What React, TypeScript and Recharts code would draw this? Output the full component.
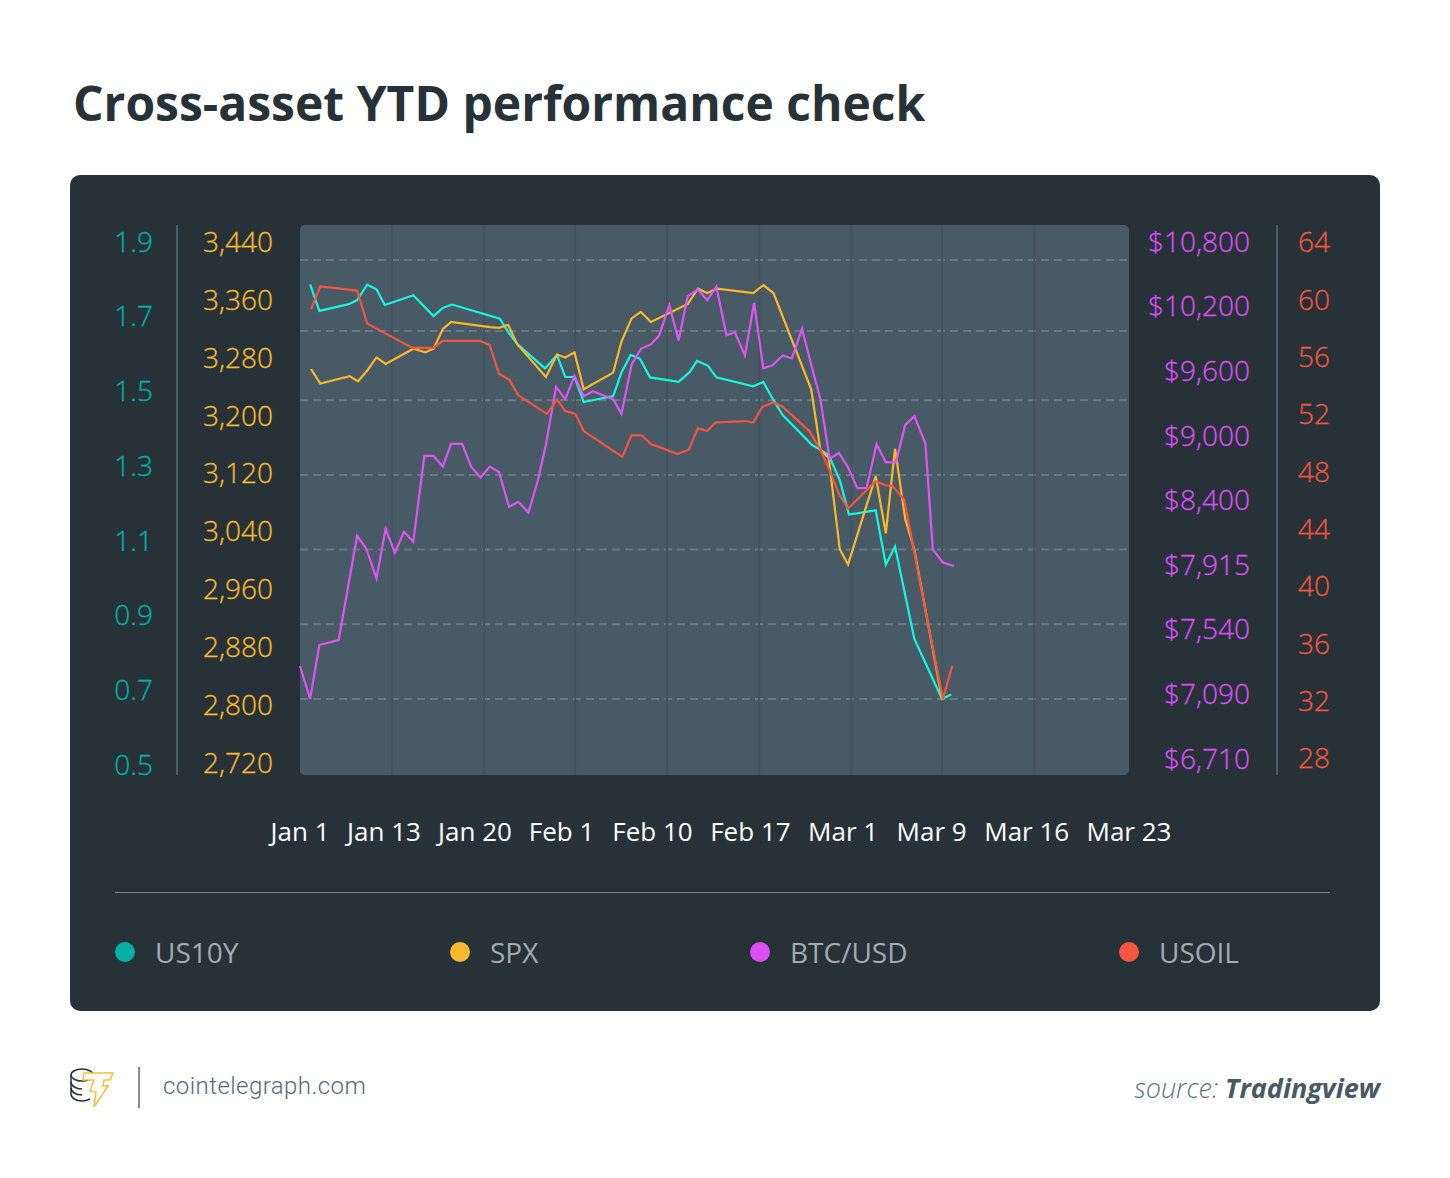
import { LineChart, Line, XAxis, YAxis, CartesianGrid } from 'recharts';

// x positions are in session steps from the left edge of the plot
const us10yDays = [1.1, 2.1, 5.3, 6.2, 7.3, 8.3, 9.2, 12.3, 14.5, 15.5, 16.5, 21.7, 22.7, 23.6, 26.6, 27.9, 28.8, 29.8, 30.8, 34, 34.9, 35.9, 36.9, 38, 41.1, 42.3, 43.1, 44.3, 45.2, 49.2, 50.3, 51.4, 52.4, 55.6, 56.5, 57.4, 58.6, 59.6, 62.5, 63.6, 64.6, 66.7, 69.7, 70.7];
const us10yValues = [1.81, 1.739, 1.757, 1.768, 1.809, 1.797, 1.755, 1.781, 1.725, 1.747, 1.756, 1.718, 1.679, 1.65, 1.585, 1.621, 1.562, 1.562, 1.495, 1.511, 1.574, 1.621, 1.611, 1.561, 1.549, 1.575, 1.605, 1.592, 1.561, 1.537, 1.549, 1.5, 1.46, 1.38, 1.367, 1.353, 1.286, 1.194, 1.205, 1.06, 1.108, 0.861, 0.7, 0.712];

const spxDays = [1.2, 2.2, 5.4, 6.3, 7.3, 8.3, 9.3, 12.3, 13.6, 14.5, 15.5, 16.4, 20.6, 21.6, 22.6, 23.6, 26.7, 27.9, 28.8, 29.8, 30.8, 34, 34.9, 36, 37, 38.1, 42.1, 43.2, 44.2, 45.3, 49.2, 50.3, 51.4, 55.5, 56.5, 57.4, 58.6, 59.5, 62.5, 63.6, 64.6, 65.7, 66.7, 69.7];
const spxValues = [3256, 3236, 3246, 3239, 3254, 3272, 3263, 3284, 3279, 3284, 3311, 3321, 3314, 3313, 3317, 3290, 3245, 3276, 3272, 3279, 3228, 3251, 3294, 3326, 3335, 3321, 3346, 3367, 3361, 3367, 3361, 3372, 3361, 3228, 3144, 3133, 3007, 2986, 3108, 3029, 3146, 3049, 3006, 2800];

const btcDays = [0, 1.1, 2.1, 4.2, 6.2, 7.2, 8.3, 9.3, 10.3, 11.3, 12.3, 13.5, 14.5, 15.5, 16.4, 17.6, 18.6, 19.6, 20.6, 21.6, 22.7, 23.7, 24.8, 25.8, 26.7, 27.8, 28.8, 29.8, 30.8, 31.8, 34, 34.9, 36, 37, 38.1, 39, 40.1, 41.1, 42.1, 43.2, 44.2, 45.2, 46.3, 47.2, 48.3, 49.3, 50.3, 51.3, 52.4, 53.4, 54.5, 55.5, 56.5, 57.5, 58.5, 59.5, 60.5, 61.5, 62.6, 63.6, 64.7, 65.7, 66.7, 67.9, 68.7, 69.8, 71];
const btcValues = [7320, 7090, 7466, 7501, 8170, 8073, 7865, 8223, 8043, 8200, 8125, 8858, 8858, 8759, 8969, 8969, 8756, 8657, 8759, 8709, 8388, 8431, 8345, 8623, 8964, 9499, 9385, 9601, 9412, 9459, 9385, 9248, 9707, 9852, 9893, 9979, 10258, 9930, 10341, 10403, 10304, 10428, 9979, 10007, 9790, 10279, 9672, 9700, 9790, 9763, 10037, 9707, 9382, 8830, 8886, 8753, 8558, 8558, 8967, 8797, 8797, 9146, 9227, 8973, 8067, 7970, 7943];

const usoilDays = [1.2, 2.2, 6.2, 7.3, 12.2, 14.5, 15.5, 19.5, 20.6, 21.6, 22.7, 23.7, 26.8, 27.9, 28.8, 29.9, 30.8, 35, 36, 37.1, 38.1, 41, 42.2, 43.2, 44.2, 45.1, 48.3, 49.2, 50.2, 51.4, 52.4, 55.3, 56.5, 57.4, 58.6, 59.5, 62.5, 63.6, 64.3, 65.6, 67.9, 69.8, 70.8];
const usoilValues = [59.2, 60.8, 60.5, 58.2, 56.5, 56.5, 57, 57, 56.7, 54.7, 54.3, 53.2, 51.9, 52.9, 52.1, 51.9, 50.7, 48.9, 50.4, 50.4, 49.8, 49.1, 49.4, 50.9, 50.7, 51.3, 51.4, 51.3, 52.4, 52.7, 52.4, 50.7, 49.4, 48.1, 46.2, 45.3, 47.2, 46.9, 46.9, 45.9, 38.2, 32, 34.3];

const us10yTicks = [0.5, 0.7, 0.9, 1.1, 1.3, 1.5, 1.7, 1.9];
const spxTicks = [2720, 2800, 2880, 2960, 3040, 3120, 3200, 3280, 3360, 3440];
const btcTicks = [6710, 7090, 7540, 7915, 8400, 9000, 9600, 10200, 10800];
const usoilTicks = [28, 32, 36, 40, 44, 48, 52, 56, 60, 64];

const xLabels = ['Jan 1', 'Jan 13', 'Jan 20', 'Feb 1', 'Feb 10', 'Feb 17', 'Mar 1', 'Mar 9', 'Mar 16', 'Mar 23'];
const xLabelDays = [0, 9.12, 19, 28.4, 38.27, 48.9, 58.96, 68.57, 78.9, 90];
const gridDays = [9.99, 19.98, 29.86, 39.85, 49.84, 59.83, 69.7, 79.7];
const gridLevels = [0.7, 0.9, 1.1, 1.3, 1.5, 1.685, 1.875];

const COLORS = { us10y: '#14F7DE', spx: '#FBB829', btc: '#DE55F5', usoil: '#F4553F' };
const LABEL_COLORS = { us10y: '#00B2A5', spx: '#F9B92E', btc: '#DD4DF5', usoil: '#F2563F' };

const LEGEND = [
  { name: 'US10Y', color: LABEL_COLORS.us10y, dot: 125, text: 155 },
  { name: 'SPX', color: LABEL_COLORS.spx, dot: 460, text: 490 },
  { name: 'BTC/USD', color: LABEL_COLORS.btc, dot: 760, text: 790 },
  { name: 'USOIL', color: LABEL_COLORS.usoil, dot: 1129, text: 1159 },
];

const FONT = '"Open Sans", sans-serif';
const LINE_WIDTH = 2.2;

// the BTC axis is evenly spaced per label, not per dollar, so values go through the label list
function btcPosition(value: number) {
  for (let i = 0; i < btcTicks.length - 1; i++) {
    if (value <= btcTicks[i + 1]) {
      return i + (value - btcTicks[i]) / (btcTicks[i + 1] - btcTicks[i]);
    }
  }
  return btcTicks.length - 1;
}

const toPoints = (days: number[], values: number[]) => days.map((day, i) => ({ day, value: values[i] }));

const us10yData = toPoints(us10yDays, us10yValues);
const spxData = toPoints(spxDays, spxValues);
const btcData = toPoints(btcDays, btcValues.map(btcPosition));
const usoilData = toPoints(usoilDays, usoilValues);

function axisTick(color: string, dx: number, dy: number, anchor: 'start' | 'end', format: (v: number) => string) {
  return (props: any) => (
    <text
      x={props.x + dx}
      y={props.y + dy}
      textAnchor={anchor}
      dominantBaseline="central"
      fill={color}
      stroke={color}
      strokeWidth={0.3}
      fontSize={28}
      fontWeight={300}
      fontFamily={FONT}
    >
      {format(props.payload.value)}
    </text>
  );
}

function Logo() {
  return (
    <svg width={50} height={50} style={{ position: 'absolute', left: 68, top: 1062 }} fill="none">
      <g stroke="#263238" strokeWidth={1.5}>
        <ellipse cx={14} cy={13} rx={11} ry={6} />
        <path d="M3 13 V32 C3 36 8 39 14 39 C17 39 20 38 22 37" />
        <path d="M3 20 C3 24 8 27 14 27" />
        <path d="M3 26 C3 30 8 33 14 33" />
      </g>
      <path
        d="M16 11 L45 11 L42 18 L36 18 L35 24 L40 24 L26 45 L28 30 L22 29 L26 18 L15 18 Z"
        fill="#fff"
        stroke="#F5BE3C"
        strokeWidth={1.5}
      />
    </svg>
  );
}

export default function App() {
  return (
    <div style={{ position: 'absolute', left: 0, top: 0, width: 1450, height: 1178, background: '#fff', fontFamily: FONT, overflow: 'hidden' }}>
      <div style={{ position: 'absolute', left: 73, top: 70, fontSize: 48, fontWeight: 700, color: '#263238', whiteSpace: 'nowrap', lineHeight: '66px' }}>
        Cross-asset YTD performance check
      </div>

      <div style={{ position: 'absolute', left: 70, top: 175, width: 1310, height: 836, background: '#263238', borderRadius: 10 }} />
      <div style={{ position: 'absolute', left: 300, top: 225, width: 829, height: 550, background: '#485A65', borderRadius: 5 }} />

      <div style={{ position: 'absolute', left: 70, top: 175 }}>
        <LineChart width={1310} height={700} margin={{ top: 50, right: 0, bottom: 20, left: 0 }}>
          <CartesianGrid vertical={false} yAxisId="us10y" horizontalValues={gridLevels} stroke="#677985" strokeWidth={2} strokeDasharray="8 5" />
          <CartesianGrid horizontal={false} yAxisId="us10y" verticalValues={gridDays} stroke="#43545F" strokeWidth={2} />
          <XAxis
            type="number"
            dataKey="day"
            domain={[0, 90]}
            ticks={xLabelDays}
            interval={0}
            height={80}
            axisLine={false}
            tickLine={false}
            tickMargin={42}
            tick={{ fill: '#fff', fontSize: 26, fontFamily: FONT }}
            tickFormatter={(_v: number, i: number) => xLabels[i]}
          />
          <YAxis
            yAxisId="spx"
            width={123}
            domain={[2695, 3455]}
            ticks={spxTicks}
            interval={0}
            allowDataOverflow
            axisLine={false}
            tickLine={false}
            tick={axisTick(LABEL_COLORS.spx, -19, 5, 'end', (v) => v.toLocaleString('en-US'))}
          />
          <YAxis
            yAxisId="us10y"
            width={107}
            domain={[0.4965, 1.969]}
            ticks={us10yTicks}
            interval={0}
            allowDataOverflow
            axisLine={{ stroke: '#4C5E69', strokeWidth: 2 }}
            tickLine={false}
            tick={axisTick(LABEL_COLORS.us10y, -16, -10, 'end', (v) => v.toFixed(1))}
          />
          <YAxis
            yAxisId="btc"
            orientation="right"
            width={148}
            domain={[-0.176, 8.337]}
            ticks={btcTicks.map((_t, i) => i)}
            interval={0}
            allowDataOverflow
            axisLine={false}
            tickLine={false}
            tick={axisTick(LABEL_COLORS.btc, 113, -6, 'end', (v) => `$${btcTicks[v].toLocaleString('en-US')}`)}
          />
          <YAxis
            yAxisId="usoil"
            orientation="right"
            width={103}
            domain={[26.7, 65.08]}
            ticks={usoilTicks}
            interval={0}
            allowDataOverflow
            axisLine={{ stroke: '#4C5E69', strokeWidth: 2 }}
            tickLine={false}
            tick={axisTick(LABEL_COLORS.usoil, 13, 1, 'start', (v) => String(v))}
          />
          <Line yAxisId="us10y" data={us10yData} dataKey="value" stroke={COLORS.us10y} strokeWidth={LINE_WIDTH} dot={false} isAnimationActive={false} />
          <Line yAxisId="spx" data={spxData} dataKey="value" stroke={COLORS.spx} strokeWidth={LINE_WIDTH} dot={false} isAnimationActive={false} />
          <Line yAxisId="btc" data={btcData} dataKey="value" stroke={COLORS.btc} strokeWidth={LINE_WIDTH} dot={false} isAnimationActive={false} />
          <Line yAxisId="usoil" data={usoilData} dataKey="value" stroke={COLORS.usoil} strokeWidth={LINE_WIDTH} dot={false} isAnimationActive={false} />
        </LineChart>
      </div>

      <div style={{ position: 'absolute', left: 115, top: 892, width: 1215, height: 1, background: '#7C878D' }} />
      {LEGEND.map((item) => (
        <div key={item.name}>
          <div style={{ position: 'absolute', left: item.dot - 10, top: 942, width: 20, height: 20, borderRadius: '50%', background: item.color }} />
          <div style={{ position: 'absolute', left: item.text, top: 933, fontSize: 28, lineHeight: '38px', color: '#A2ABB0' }}>{item.name}</div>
        </div>
      ))}

      <Logo />
      <div style={{ position: 'absolute', left: 138, top: 1067, width: 2, height: 41, background: '#8A8A8A' }} />
      <div style={{ position: 'absolute', left: 163, top: 1070, fontFamily: 'Roboto, sans-serif', fontWeight: 300, fontSize: 24, lineHeight: '32px', letterSpacing: 0.45, color: '#54697A' }}>
        cointelegraph.com
      </div>
      <div style={{ position: 'absolute', right: 70, top: 1070, fontSize: 27, lineHeight: '36px', fontStyle: 'italic', fontWeight: 300, color: '#5F717C', whiteSpace: 'nowrap' }}>
        source: <span style={{ fontWeight: 700, color: '#465964' }}>Tradingview</span>
      </div>
    </div>
  );
}
